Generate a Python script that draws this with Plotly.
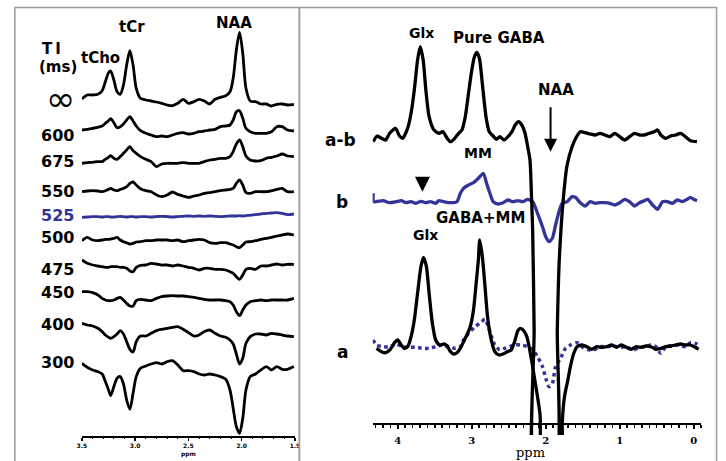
import plotly.graph_objects as go

W, H = 726, 461

# ---------------- Left panel (inversion-time series) ----------------
left_ppm = [3.50, 3.45, 3.40, 3.35, 3.31, 3.28, 3.25, 3.23, 3.20, 3.17,
            3.14, 3.11, 3.08, 3.05, 3.02, 2.99, 2.95, 2.90, 2.85, 2.80,
            2.75, 2.70, 2.65, 2.60, 2.55, 2.50, 2.45, 2.40, 2.35, 2.30,
            2.25, 2.20, 2.15, 2.11, 2.08, 2.05, 2.02, 1.99, 1.96, 1.92,
            1.87, 1.82, 1.77, 1.72, 1.67, 1.62, 1.57, 1.51]

ti_labels = ["∞", "600", "675", "550", "525", "500", "475", "450", "400", "300"]

spec_inf = [0, 4, 4, 4.7, 8.3, 17.3, 26.3, 28, 19, 7.3,
            4.7, 14, 34, 48.3, 34, 10.7, 0.7, -1, -2, -3,
            -4.3, -6, -6.7, -4.3, -0.3, -4.3, -2.7, -0.3, -2, -5,
            -0.3, 1.7, 3.3, 7.3, 20.7, 49, 66.7, 45.7, 10.7, -2,
            -2.7, -5, -5, -7, -5.3, -5, -6, -5.3]
spec_600 = [0, 0.7, 1.7, 2.7, 4, 6.7, 9.3, 11.3, 7.3, 2.3,
            3.3, 6, 10, 13.3, 9, 4, -0.7, -3.3, -5, -6.7,
            -6, -6.7, -5, -3.3, -2.7, -4, -3.3, -1.7, -1, 0,
            0.7, 3.3, 4, 5, 10, 18.3, 19.3, 11.7, 1.7, -1.7,
            -3.3, -3.3, -3.3, -1.7, 3.3, 3.3, 0, -1]
spec_675 = [0, 0.7, 1, 1.7, 1.7, 4, 6, 7.7, 5, 4,
            6.7, 10, 13.3, 16.7, 12.7, 10, 6.7, 4, 1.7, -3.3,
            -0.7, 0, 0, 0, 0.7, 0, 0, 0, 1.7, 3.3,
            4, 5, 5, 6.7, 11.7, 19.3, 23.3, 16.7, 7.3, 3.3,
            2.3, 2.7, 5, 6, 7.3, 9.3, 7.3, 6.7]
spec_550 = [0, 0.7, 1, 0.7, 0, 1, 2.3, 3.3, 1.7, 1,
            2.3, 3.3, 5, 8.3, 9.7, 6.7, 3, 1, 0, -3.3,
            -5, -3.3, -0.3, -2.7, -4.3, -5.7, -4.3, -3.3, -1.7, -1,
            0, 1, 1.7, 2.3, 3.3, 8.3, 11.7, 6.7, -1, -1.7,
            0, 0, 0, 1, 2.3, 3.3, 0, 0]
spec_525 = [0, 0.3, 0.7, 0.7, 0.3, 0.7, 0.7, 0.3, 0.3, 0.7,
            1, 0.7, 0.3, 0.7, 0.7, 0.3, 0.7, 0.7, 0.3, 0.7,
            1, 0.7, 0.3, 0.7, 1, 1.3, 1, 1.3, 1, 1.3,
            1, 0.7, 1, 1.3, 1.3, 1.3, 1.7, 1.3, 1.7, 2,
            2.7, 3.3, 4, 4.3, 4.7, 4, 2.7, 3.3]
spec_500 = [0, 3.3, 0.7, 0, 0.7, 1.3, 1.3, 1.7, 2.3, 3.3,
            0.7, -1, -2, -3.3, -2.7, -1.3, -1, 0, 0, 0.7,
            0.7, 0.7, 0, 0.7, -1, 0, 0.7, 1.3, 0.7, -2,
            -2.7, -2, -2, -3.3, -4.3, -6, -7, -4.3, -1.3, -1,
            0, 1.3, 2.3, 3.3, 4.7, 5.7, 6.7, 5.7]
spec_475 = [0, -3.3, -5, -6, -6.7, -7.3, -7.3, -6.7, -6.7, -6.7,
            -7.3, -7.3, -8.3, -11, -11.7, -7.3, -5.3, -5, -3.3, -4,
            -5, -5, -6, -5, -6, -7.3, -8.3, -10, -8.3, -8.3,
            -9.3, -9.3, -10, -11.7, -13.3, -16.7, -19.3, -15, -9.3, -8.3,
            -9.3, -6, -6, -5, -4, -5, -4.3, -4.3]
spec_450 = [0, 0, -1, -3.3, -6.7, -8.3, -9, -9, -8.3, -6.7,
            -5.7, -8.3, -11.7, -14.3, -14.3, -9, -7.7, -8.3, -9, -6.7,
            -5, -4.3, -4, -4.3, -4.3, -5, -5.7, -6.7, -7.7, -8.3,
            -8.3, -8.3, -9, -10, -13.3, -20, -24, -18.3, -13.3, -10,
            -9, -8.3, -9, -8.3, -8.3, -8.3, -8.3, -6.7]
spec_400 = [0, -1.7, -2.7, -5, -8.3, -11.7, -14, -15, -13.3, -10.7,
            -7.3, -10.7, -18.3, -26, -28.7, -18.3, -12.7, -12.7, -10, -7.3,
            -6, -5, -4, -3.3, -6, -9.3, -12.7, -11.7, -8.3, -6.7,
            -10, -12.7, -14, -16.7, -20.7, -30.7, -40.7, -35, -20, -13.3,
            -10.7, -10.7, -11.7, -10, -10.7, -11.7, -12.7, -13.3]
spec_300 = [0, -4, -6.7, -8.3, -10.7, -18.3, -26.7, -32.3, -23.3, -15,
            -13.3, -20.7, -36.7, -46, -30, -13.3, -5, -2.7, -0.7, 0.7,
            -0.7, 1.7, 2.7, -1.7, -7.3, -7.3, -8.3, -10.7, -11.7, -10.7,
            -11.7, -13.3, -16, -26.7, -45, -63.3, -70, -55, -26.7, -13.3,
            -10.7, -6.7, -3.3, -6.7, -3.3, -6, -6, -3.3]

left_specs = [spec_inf, spec_600, spec_675, spec_550, spec_525,
              spec_500, spec_475, spec_450, spec_400, spec_300]
left_offsets = [337, 306, 272.7, 244.3, 218.7, 195.3, 176, 144.3, 112.7, 72.7]
left_label_y = [99, 135, 161.7, 191.7, 215, 237.3, 269.3, 292.7, 324.3, 362.7]
left_ticks = [3.5, 3.0, 2.5, 2.0, 1.5]
left_ticktext = ["3.5", "3.0", "2.5", "2.0", "1.5"]

# ---------------- Right panel (edited spectra) ----------------
ab_ppm = [4.333, 4.280, 4.221, 4.164, 4.111, 4.031, 3.977, 3.933, 3.867, 3.821,
          3.777, 3.733, 3.697, 3.657, 3.621, 3.577, 3.511, 3.444, 3.391, 3.333,
          3.288, 3.231, 3.177, 3.133, 3.088, 3.044, 3.000, 2.964, 2.933, 2.897,
          2.853, 2.808, 2.764, 2.711, 2.667, 2.621, 2.564, 2.511, 2.457, 2.413,
          2.368, 2.324, 2.280, 2.244, 2.213, 2.191, 2.177, 2.157, 2.144, 1.871,
          1.844, 1.817, 1.764, 1.711, 1.644, 1.587, 1.533, 1.467, 1.400, 1.333,
          1.267, 1.200, 1.133, 1.067, 1.000, 0.933, 0.867, 0.800, 0.733, 0.667,
          0.600, 0.533, 0.488, 0.444, 0.377, 0.311, 0.244, 0.177, 0.111, 0.044,
          -0.045]
ab_int = [0.3, 6, 3.7, 2, 8.7, 13.7, 6, 3.7, 13.7, 28.7,
          52, 82, 95.3, 82, 52, 25.3, 12, 8.7, 10.3, 3.7,
          0.3, 3.7, 8.7, 12, 25.3, 48.7, 72, 85.3, 89.7, 83.7,
          55.3, 25.3, 10.3, 6, 2.7, 5.3, 2, 5.3, 10.3, 17,
          20.3, 17, 8.7, -4.7, -18, -58, -88, -188, -340, -340,
          -188, -118, -58, -23, -4.7, 4.7, 10.3, 9.3, 8, 7,
          8.7, 7, 5.3, 8.7, 5.3, 2, 5.3, 8.7, 7, 7,
          8.7, 10.3, 12, 7, 3.7, 6, 7, 8.7, 5.3, 1.3,
          0.3]

b_ppm = [4.333, 4.324, 4.200, 4.111, 4.021, 3.955, 3.888, 3.821, 3.755, 3.688,
         3.621, 3.555, 3.488, 3.444, 3.377, 3.288, 3.200, 3.155, 3.111, 3.044,
         2.977, 2.911, 2.844, 2.800, 2.755, 2.711, 2.644, 2.577, 2.511, 2.444,
         2.377, 2.311, 2.244, 2.177, 2.111, 2.044, 2.000, 1.955, 1.911, 1.867,
         1.821, 1.777, 1.711, 1.644, 1.600, 1.533, 1.467, 1.400, 1.333, 1.267,
         1.200, 1.133, 1.067, 1.000, 0.933, 0.867, 0.800, 0.733, 0.667, 0.621,
         0.555, 0.488, 0.421, 0.355, 0.288, 0.221, 0.155, 0.088, 0.044, 0.000,
         -0.045]
b_int = [8.4, 0, 1, -1, 0, 1, -1, 0, -1.6, 0.4,
         -1, 0, -1.6, 1, 0, -1, 0, 8.4, 13.4, 16.7,
         19, 23.4, 28.4, 18.4, 8.4, 0, -2.3, -1, 1.7, 0,
         1, 0, 2.4, 0, -11.6, -25, -35, -40, -36.6, -23.3,
         -10, -1.6, 0, 5, 4.4, -1, -4.3, 0, -1.6, -1,
         -1, -1.6, -3.3, -1, 2.4, 0, -4.3, -1, 1, 2.4,
         -3.3, -7.6, 0, 0, -1.6, 1.7, 0, 2.4, 4.4, 2.4,
         1]

a_ppm = [4.288, 4.221, 4.164, 4.101, 4.044, 4.000, 3.955, 3.911, 3.867, 3.821,
         3.777, 3.733, 3.688, 3.653, 3.613, 3.577, 3.533, 3.488, 3.435, 3.377,
         3.333, 3.288, 3.244, 3.200, 3.155, 3.111, 3.067, 3.021, 2.977, 2.941,
         2.911, 2.893, 2.857, 2.821, 2.787, 2.741, 2.688, 2.635, 2.577, 2.520,
         2.467, 2.421, 2.377, 2.341, 2.297, 2.253, 2.204, 2.137, 2.077, 2.030,
         1.790, 1.777, 1.747, 1.701, 1.667, 1.621, 1.577, 1.511, 1.444, 1.377,
         1.311, 1.244, 1.177, 1.111, 1.044, 0.977, 0.911, 0.844, 0.777, 0.711,
         0.644, 0.577, 0.511, 0.444, 0.377, 0.311, 0.244, 0.177, 0.111, 0.044,
         -0.023, -0.067]
a_int = [-1, -4.4, -5.4, -2, 4.6, 7.3, 2.3, -1, 0.6, 10.6,
         27.3, 54, 80.6, 90, 80.6, 54, 24, 7.3, 2.3, 3.3,
         1.3, -4.4, -6.7, -5.4, -1, 5.6, 12.3, 20.6, 37.3, 64,
         87.3, 107.3, 90.6, 60.6, 30.6, 9, -4.4, -7.7, -6.7, -4.4,
         -2.7, 5.6, 16.6, 19, 16.6, 10, -7.7, -37.7, -67.7, -150,
         -150, -76, -49.4, -32.7, -19.4, -6, 0.6, 2.3, 0.6, -2,
         0.6, 0, 0.6, 2.3, 0, 2.3, 0, -2, 0.6, 0,
         1.3, 0.6, -2, -1, 0.6, 1.3, 2.3, 3.3, 2.3, 2.3,
         0, -2]

mm_ppm = [4.333, 4.288, 4.200, 4.111, 4.021, 3.933, 3.844, 3.755, 3.667, 3.577,
          3.488, 3.400, 3.311, 3.221, 3.155, 3.111, 3.044, 2.955, 2.867, 2.821,
          2.777, 2.733, 2.688, 2.621, 2.555, 2.488, 2.421, 2.333, 2.244, 2.177,
          2.111, 2.044, 2.000, 1.955, 1.911, 1.867, 1.800, 1.733, 1.667, 1.577,
          1.511, 1.444, 1.355, 1.267, 1.177, 1.088, 1.000, 0.911, 0.821, 0.733,
          0.644, 0.577, 0.511, 0.444, 0.377, 0.288, 0.200, 0.111, 0.044, -0.023,
          -0.067]
mm_int = [6.7, 1.7, 0, 0, 2.7, 0, -0.6, -0.6, -1.6, -1.6,
          0, 1.7, 0, -1.6, 0, 6.7, 13.4, 20, 25, 27.4,
          20, 10, 1.7, -3.3, -1.6, 0, 1.7, 1.7, 0, -3.3,
          -10, -20, -31.6, -40, -36.6, -20, -11.6, -1.6, 1.7, 4,
          0, -2.6, -3.3, 0, 0, 0.7, -0.6, 0, -3.3, -0.6,
          0, 1.7, 0, -6.6, 0, 0.7, 1.7, 0, 4, 3.4,
          1.7]

right_offsets = {"a-b": 282, "b": 222.3, "a": 76.7, "mm": 77.3}
right_ticks = [4, 3, 2, 1, 0]

BLACK = "#000000"
BLUE = "#33339a"
FONT = "DejaVu Sans"
SERIF = "DejaVu Serif"


def px(x):
    return x / W


def py(y):
    return (H - y) / H


fig = go.Figure()

# left spectra
for lab, spec, off in zip(ti_labels, left_specs, left_offsets):
    fig.add_trace(go.Scatter(
        x=left_ppm, y=[off + v for v in spec], mode="lines",
        line=dict(color=BLUE if lab == "525" else BLACK, width=2.8,
                  shape="spline", smoothing=0.8),
        xaxis="x", yaxis="y", hoverinfo="skip"))

# right spectra
fig.add_trace(go.Scatter(
    x=mm_ppm, y=[right_offsets["mm"] + v for v in mm_int], mode="lines",
    line=dict(color=BLUE, width=3.5, dash="3.5px,3.5px", shape="spline", smoothing=0.8),
    xaxis="x2", yaxis="y2", hoverinfo="skip"))
fig.add_trace(go.Scatter(
    x=b_ppm, y=[right_offsets["b"] + v for v in b_int], mode="lines",
    line=dict(color=BLUE, width=3.3, shape="spline", smoothing=0.6),
    xaxis="x2", yaxis="y2", hoverinfo="skip"))
fig.add_trace(go.Scatter(
    x=a_ppm, y=[right_offsets["a"] + v for v in a_int], mode="lines",
    line=dict(color=BLACK, width=3.3, shape="spline", smoothing=0.6),
    xaxis="x2", yaxis="y2", hoverinfo="skip"))
fig.add_trace(go.Scatter(
    x=ab_ppm, y=[right_offsets["a-b"] + v for v in ab_int], mode="lines",
    line=dict(color=BLACK, width=3.3, shape="spline", smoothing=0.6),
    xaxis="x2", yaxis="y2", hoverinfo="skip"))

annotations = []


def label(text, x, y, size=15, color=BLACK, family=FONT, weight="bold"):
    annotations.append(dict(
        text=text, x=px(x), y=py(y), xref="paper", yref="paper",
        xanchor="center", yanchor="middle", showarrow=False,
        font=dict(family=family, size=size, color=color, weight=weight)))


# left panel labels
label("T\u2009I", 46.7, 49.5, 15)
label("(ms)", 53.3, 67.5, 15)
label("tCho", 96.7, 58.3, 15)
label("tCr", 128.3, 26.7, 15)
label("NAA", 231.7, 23.3, 15)
for lab, yy in zip(ti_labels, left_label_y):
    if lab == "∞":
        label(lab, 56.7, yy, 35, weight="normal")
    else:
        label(lab, 53.5, yy, 16, BLUE if lab == "525" else BLACK)
label("ppm", 186, 454, 6)

# right panel labels
label("Glx", 422.3, 33.3, 14)
label("Pure GABA", 501, 38.3, 15)
label("NAA", 558.3, 90, 15)
label("a-b", 340, 140, 17)
label("MM", 480, 153.3, 14)
label("b", 341.7, 201.7, 17)
label("GABA+MM", 481.7, 218.3, 15)
label("Glx", 426.7, 235, 14)
label("a", 342.7, 351.7, 17)
label("ppm", 533.3, 452.5, 13, family=SERIF, weight="normal")

# arrows
annotations.append(dict(x=1.935, y=272.3, xref="x2", yref="y2", text="",
                        showarrow=True, ax=0, ay=-46, arrowhead=2,
                        arrowsize=1.3, arrowwidth=2, arrowcolor=BLACK))
annotations.append(dict(x=3.667, y=232.3, xref="x2", yref="y2", text="",
                        showarrow=True, ax=0, ay=-16, arrowhead=2,
                        arrowsize=1.2, arrowwidth=2.5, arrowcolor=BLACK))

shapes = [
    dict(type="rect", xref="paper", yref="paper", x0=px(10), x1=px(298.5),
         y0=-0.05, y1=py(7.5), line=dict(color="#9c9c9c", width=1.5)),
    dict(type="rect", xref="paper", yref="paper", x0=px(298.5), x1=px(721.5),
         y0=-0.05, y1=py(7.5), line=dict(color="#9c9c9c", width=1.5)),
]

fig.update_layout(
    width=W, height=H, margin=dict(l=0, r=0, t=0, b=0),
    paper_bgcolor="white", plot_bgcolor="rgba(0,0,0,0)", showlegend=False,
    xaxis=dict(domain=[px(78), px(294)], range=[3.5, 1.5], anchor="y",
               tickvals=left_ticks, ticktext=left_ticktext,
               ticks="outside", ticklen=3, tickwidth=1.5, tickcolor=BLACK,
               showline=True, linecolor=BLACK, linewidth=1.6,
               showgrid=False, zeroline=False,
               minor=dict(dtick=0.1, ticks="outside", ticklen=1.5, tickwidth=1,
                          tickcolor=BLACK, showgrid=False),
               tickfont=dict(family=FONT, size=6, color=BLACK, weight="bold"),
               fixedrange=True),
    yaxis=dict(domain=[py(436), py(7)], range=[0, 429], visible=False,
               fixedrange=True),
    xaxis2=dict(domain=[px(372.8), px(705.8)], range=[4.34, -0.1],
                anchor="free", position=py(424),
                tickvals=right_ticks, ticktext=[str(t) for t in right_ticks],
                ticks="outside", ticklen=3.5, tickwidth=2, tickcolor=BLACK,
                showline=True, linecolor=BLACK, linewidth=2.4,
                showgrid=False, zeroline=False,
                minor=dict(dtick=0.1, ticks="outside", ticklen=2.5, tickwidth=1.5,
                           tickcolor=BLACK, showgrid=False),
                tickfont=dict(family=SERIF, size=10, color=BLACK, weight="bold"),
                ticklabelstandoff=3,
                fixedrange=True),
    yaxis2=dict(domain=[py(435), py(7)], range=[-11, 417], visible=False,
                anchor="x2", fixedrange=True),
    annotations=annotations, shapes=shapes,
)

fig.write_html(
    "out.html",
    config={"displayModeBar": False, "staticPlot": True},
    post_script="document.body.style.margin='0px';document.body.style.overflow='hidden';",
)
